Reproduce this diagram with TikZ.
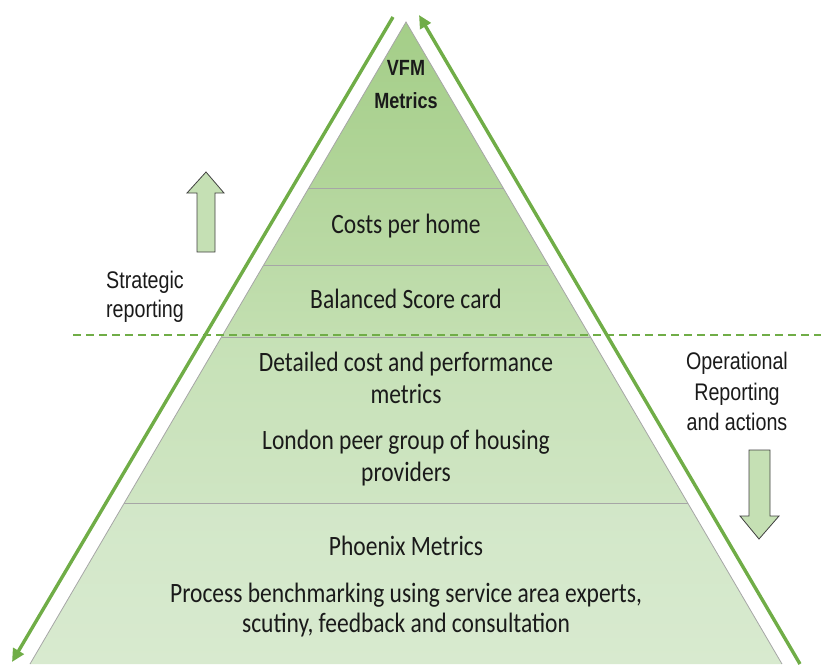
\documentclass[tikz,border=0pt]{standalone}
\usepackage{fontspec}
\setmainfont{Carlito}
\newfontfamily\pyrfont[FakeStretch=0.84]{Carlito}
\newfontfamily\sidefont[FakeStretch=0.82]{Liberation Sans}
\usetikzlibrary{arrows.meta}
\definecolor{flowgreen}{HTML}{70AD47}
\definecolor{edgegray}{HTML}{A6A6A6}
\definecolor{blockfill}{HTML}{C5E0B4}
\definecolor{blockedge}{HTML}{404040}
\definecolor{txt}{HTML}{1A1A1A}
\begin{document}
\begin{tikzpicture}[x=1pt,y=-1pt,
  layer/.style={draw=edgegray,line width=0.8pt},
  pyrtext/.style={anchor=base,inner sep=0pt,text=txt,font=\pyrfont\fontsize{28}{34}\selectfont},
  sidetext/.style={anchor=base,inner sep=0pt,text=txt,font=\sidefont\fontsize{24}{30}\selectfont},
  toptext/.style={anchor=base,inner sep=0pt,text=txt,font=\sidefont\bfseries\fontsize{22}{28}\selectfont},
  flow/.style={draw=flowgreen,line width=3.4pt,-{Triangle[length=13pt,width=12pt]}},
  blockarrow/.style={draw=blockedge,line width=0.8pt,fill=blockfill,line join=miter}]
\useasboundingbox (0,0) rectangle (821,664);
% pyramid corner points
\coordinate (apex) at (406,22);
\coordinate (l1) at (308.8,188); \coordinate (r1) at (503.2,188);
\coordinate (l2) at (263.7,265); \coordinate (r2) at (548.3,265);
\coordinate (l3) at (221.5,337); \coordinate (r3) at (590.5,337);
\coordinate (l4) at (124.3,503); \coordinate (r4) at (687.7,503);
\coordinate (l5) at (30,664);    \coordinate (r5) at (782,664);
% layers
\shade[top color={rgb,255:red,164;green,206;blue,136},bottom color={rgb,255:red,178;green,213;blue,154}] (apex) -- (r1) -- (l1) -- cycle;
\shade[top color={rgb,255:red,180;green,214;blue,157},bottom color={rgb,255:red,186;green,218;blue,165}] (l1) -- (r1) -- (r2) -- (l2) -- cycle;
\shade[top color={rgb,255:red,188;green,219;blue,168},bottom color={rgb,255:red,195;green,223;blue,177}] (l2) -- (r2) -- (r3) -- (l3) -- cycle;
\shade[top color={rgb,255:red,198;green,225;blue,182},bottom color={rgb,255:red,207;green,229;blue,195}] (l3) -- (r3) -- (r4) -- (l4) -- cycle;
\shade[top color={rgb,255:red,210;green,231;blue,200},bottom color={rgb,255:red,216;green,234;blue,207}] (l4) -- (r4) -- (r5) -- (l5) -- cycle;
\draw[layer] (l5) -- (apex) -- (r5);
\draw[layer] (l1) -- (r1);
\draw[layer] (l2) -- (r2);
\draw[layer] (l3) -- (r3);
\draw[layer] (l4) -- (r4);
% dashed separator
\coordinate (dashL) at (73,335);
\coordinate (dashR) at (821,335);
\draw[flowgreen,line width=1.3pt,dash pattern=on 8pt off 5pt] (dashL) -- (dashR);
% green flow lines
\coordinate (lTop) at (393,17);
\coordinate (lBot) at (12,662);
\coordinate (rBot) at (800,664);
\coordinate (rTop) at (419,15);
\draw[flow] (lTop) -- (lBot);
\draw[flow] (rBot) -- (rTop);
% block arrows
\draw[blockarrow] (206,172) -- (224,193) -- (215,193) -- (215,252) -- (197,252) -- (197,193) -- (187,193) -- cycle;
\draw[blockarrow] (759,539) -- (779,516) -- (770,516) -- (770,450) -- (749,450) -- (749,516) -- (740,516) -- cycle;
% texts
\node[toptext] (vfm) at (406,75) {VFM};
\node[toptext] (vfm2) at (406,108) {Metrics};
\node[pyrtext] (cost) at (406,233) {Costs per home};
\node[pyrtext] (bsc) at (406,308) {Balanced Score card};
\node[pyrtext] (det1) at (406,371) {Detailed cost and performance};
\node[pyrtext] (det2) at (406,403) {metrics};
\node[pyrtext] (lon1) at (406,449) {London peer group of housing};
\node[pyrtext] (lon2) at (406,481) {providers};
\node[pyrtext] (ph1) at (406,555) {Phoenix Metrics};
\node[pyrtext] (ph2) at (406,602) {Process benchmarking using service area experts,};
\node[pyrtext] (ph3) at (406,632) {scutiny, feedback and consultation};
\node[sidetext] (st1) at (145,288) {Strategic};
\node[sidetext] (st2) at (145,317) {reporting};
\node[sidetext] (op1) at (737,369) {Operational};
\node[sidetext] (op2) at (737,400) {Reporting};
\node[sidetext] (op3) at (737,430) {and actions};
\end{tikzpicture}
\end{document}
